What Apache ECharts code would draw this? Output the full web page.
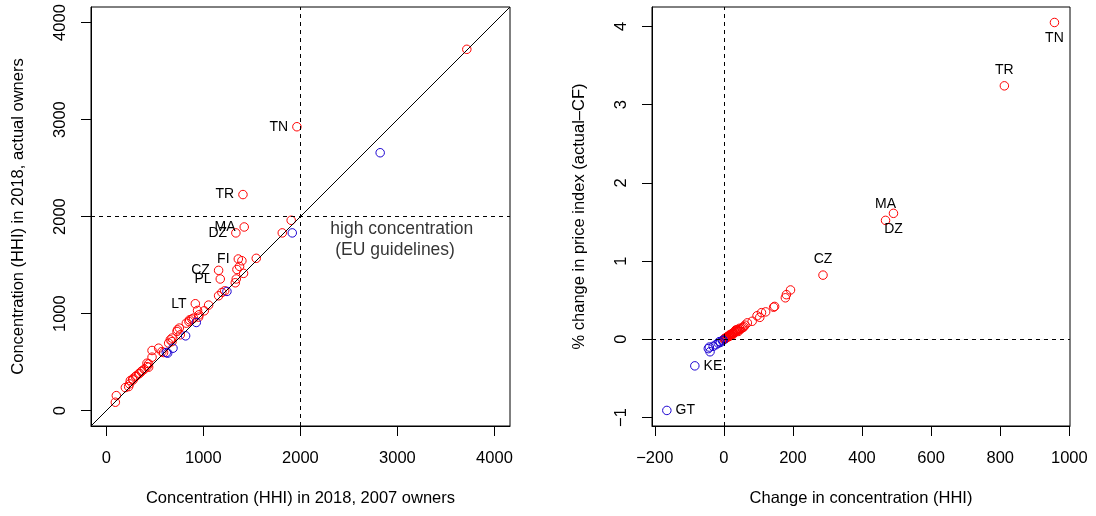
<!DOCTYPE html>
<html>
<head>
<meta charset="utf-8">
<script src="https://cdn.jsdelivr.net/npm/echarts@6/dist/echarts.min.js"></script>
<style>
  html, body { margin: 0; background: #fff; }
  #chart { width: 1096px; height: 516px; }
</style>
</head>
<body>
<div id="chart"></div>
<script>
// left panel: x = HHI 2018 with 2007 owners, y = HHI 2018 actual owners
const leftRed = [
  [3715, 3724], [1964, 2926, 'TN'], [1408, 2227, 'TR'], [1905, 1962],
  [1421, 1893, 'MA'], [1335, 1832, 'DZ'], [1813, 1832], [1545, 1570],
  [1360, 1563, 'FI'], [1397, 1545], [1373, 1487], [1346, 1455], [1414, 1415],
  [1339, 1357], [1329, 1318], [1157, 1446, 'CZ'], [1174, 1357, 'PL'],
  [1191, 1218], [1157, 1184], [1220, 1235], [917, 1102, 'LT'], [940, 1033],
  [1054, 1088], [1009, 1029], [955, 988], [899, 954], [882, 944], [858, 936],
  [851, 919], [824, 902], [951, 964], [752, 851], [734, 833], [728, 816],
  [762, 782], [659, 730], [677, 712], [642, 696], [677, 748], [573, 609],
  [590, 599], [471, 620], [539, 644], [471, 551], [419, 489], [436, 448],
  [436, 482], [419, 454], [391, 427], [360, 403], [368, 410], [333, 379],
  [343, 385], [299, 351], [309, 358], [271, 327], [275, 317], [247, 310],
  [240, 276], [230, 248], [196, 238], [103, 155], [93, 87]
];
const leftBlue = [
  [2822, 2658], [1916, 1832], [1243, 1229], [927, 909], [817, 771],
  [687, 644], [632, 593], [618, 599]
];
const leftTicks = [0, 1000, 2000, 3000, 4000];
const leftRange = [-158, 4160];
const threshold = 2000;
const leftNotes = [
  ['high concentration', 3045, 1866],
  ['(EU guidelines)', 2976, 1652]
];

// right panel: x = change in HHI, y = % change in price index
const rightRed = [
  [957, 4.05, 'TN'], [812, 3.24, 'TR'], [468, 1.52, 'MA'], [491, 1.61, 'DZ'],
  [287, 0.82, 'CZ'], [193, 0.63], [181, 0.57], [178, 0.53], [147, 0.42],
  [144, 0.41], [121, 0.35], [109, 0.34], [104, 0.28], [96, 0.30], [82, 0.23],
  [68, 0.21], [61, 0.18], [58, 0.16], [55, 0.15], [52, 0.14], [48, 0.13],
  [45, 0.14], [44, 0.12], [40, 0.11], [38, 0.12], [36, 0.10], [35, 0.12],
  [33, 0.09], [31, 0.10], [29, 0.08], [27, 0.08], [26, 0.06], [25, 0.07],
  [23, 0.07], [21, 0.06], [20, 0.05], [18, 0.06], [17, 0.04], [16, 0.05],
  [15, 0.04], [13, 0.04], [12, 0.03], [10, 0.03], [9, 0.03], [8, 0.02],
  [7, 0.02], [6, 0.02], [5, 0.01], [4, 0.01], [3, 0.01], [2, 0.005], [1, 0.0],
  [42, 0.10]
];
const rightBlue = [
  [-165, -0.91, 'GT'], [-84, -0.34, 'KE'], [-45, -0.12], [-40, -0.16],
  [-42, -0.10], [-31, -0.09], [-23, -0.07], [-16, -0.05], [-13, -0.03],
  [-10, -0.04], [-4, -0.02], [-2, -0.01]
];
const rightXTicks = [-200, 0, 200, 400, 600, 800, 1000];
const rightYTicks = [-1, 0, 1, 2, 3, 4];
const rightXRange = [-208, 1002];
const rightYRange = [-1.109, 4.248];

const leftLabelPos = { TN: 'left', TR: 'left', MA: 'left', DZ: 'left', FI: 'left', CZ: 'left', PL: 'left', LT: 'left' };
const rightLabelPos = { TN: 'bottom', TR: 'top', MA: 'top', DZ: 'bottom', CZ: 'top', KE: 'right', GT: 'right' };

const RED = '#ff0000';
const BLUE = '#1a00d0';
const FONT = '"Liberation Sans", Arial, sans-serif';
const minus = v => String(v).replace('-', '\u2212');

const toItems = (arr, posMap) => arr.map(p => {
  const item = { value: [p[0], p[1]] };
  if (p[2]) {
    item.name = p[2];
    item.label = {
      show: true, formatter: p[2], position: posMap[p[2]], distance: 4,
      color: '#000', fontSize: 14, fontFamily: FONT
    };
  }
  return item;
});

const dashed = { type: [4, 4], color: '#000', width: 1 };

const xAxisBase = (grid, range, ticks, name) => ({
  type: 'value', gridIndex: grid, min: range[0], max: range[1],
  name, nameLocation: 'middle', nameGap: 64,
  nameTextStyle: { color: '#000', fontSize: 16.5, fontFamily: FONT },
  splitLine: { show: false },
  axisLine: { show: true, onZero: false, lineStyle: { color: '#000', width: 1 } },
  axisTick: { show: true, inside: false, length: 10, customValues: ticks, lineStyle: { color: '#000' } },
  axisLabel: { customValues: ticks, margin: 24, color: '#000', fontSize: 16.5, fontFamily: FONT, formatter: minus }
});
const yAxisBase = (grid, range, ticks, name) => ({
  type: 'value', gridIndex: grid, min: range[0], max: range[1],
  name, nameLocation: 'middle', nameGap: 64, nameRotate: 90,
  nameTextStyle: { color: '#000', fontSize: 16.5, fontFamily: FONT },
  splitLine: { show: false },
  axisLine: { show: true, onZero: false, lineStyle: { color: '#000', width: 1 } },
  axisTick: { show: true, inside: false, length: 10, customValues: ticks, lineStyle: { color: '#000' } },
  axisLabel: { customValues: ticks, margin: 22, rotate: 90, color: '#000', fontSize: 16.5, fontFamily: FONT, formatter: minus }
});

const scatter = (xi, data, color, posMap) => ({
  type: 'scatter', xAxisIndex: xi, yAxisIndex: xi,
  symbol: 'circle', symbolSize: 8.5,
  itemStyle: { color: 'rgba(0,0,0,0)', borderColor: color, borderWidth: 1, opacity: 1 },
  data: toItems(data, posMap), silent: true
});

const chart = echarts.init(document.getElementById('chart'));
chart.setOption({
  animation: false,
  textStyle: { fontFamily: FONT },
  grid: [
    { left: 91, top: 7, width: 419, height: 419, show: true, borderColor: '#000', borderWidth: 1, backgroundColor: 'transparent' },
    { left: 652, top: 7, width: 418, height: 419, show: true, borderColor: '#000', borderWidth: 1, backgroundColor: 'transparent' }
  ],
  xAxis: [
    xAxisBase(0, leftRange, leftTicks, 'Concentration (HHI) in 2018, 2007 owners'),
    xAxisBase(1, rightXRange, rightXTicks, 'Change in concentration (HHI)')
  ],
  yAxis: [
    yAxisBase(0, leftRange, leftTicks, 'Concentration (HHI) in 2018, actual owners'),
    yAxisBase(1, rightYRange, rightYTicks, '% change in price index (actual\u2013CF)')
  ],
  series: [
    {
      type: 'line', xAxisIndex: 0, yAxisIndex: 0, silent: true, symbol: 'none',
      data: [[leftRange[0], leftRange[0]], [leftRange[1], leftRange[1]]],
      lineStyle: { color: '#000', width: 1 },
      markLine: {
        silent: true, symbol: 'none', label: { show: false }, lineStyle: dashed,
        data: [{ xAxis: threshold }, { yAxis: threshold }]
      }
    },
    scatter(0, leftRed, RED, leftLabelPos),
    scatter(0, leftBlue, BLUE, leftLabelPos),
    {
      type: 'scatter', xAxisIndex: 0, yAxisIndex: 0, silent: true, symbolSize: 0,
      data: leftNotes.map(n => ({ value: [n[1], n[2]], name: n[0] })),
      label: { show: true, position: 'inside', formatter: '{b}', color: '#000', fontSize: 17.5, fontFamily: FONT }
    },
    {
      type: 'line', xAxisIndex: 1, yAxisIndex: 1, silent: true, data: [],
      markLine: {
        silent: true, symbol: 'none', label: { show: false }, lineStyle: dashed,
        data: [{ xAxis: 0 }, { yAxis: 0 }]
      }
    },
    scatter(1, rightRed, RED, rightLabelPos),
    scatter(1, rightBlue, BLUE, rightLabelPos)
  ]
});
</script>
</body>
</html>
